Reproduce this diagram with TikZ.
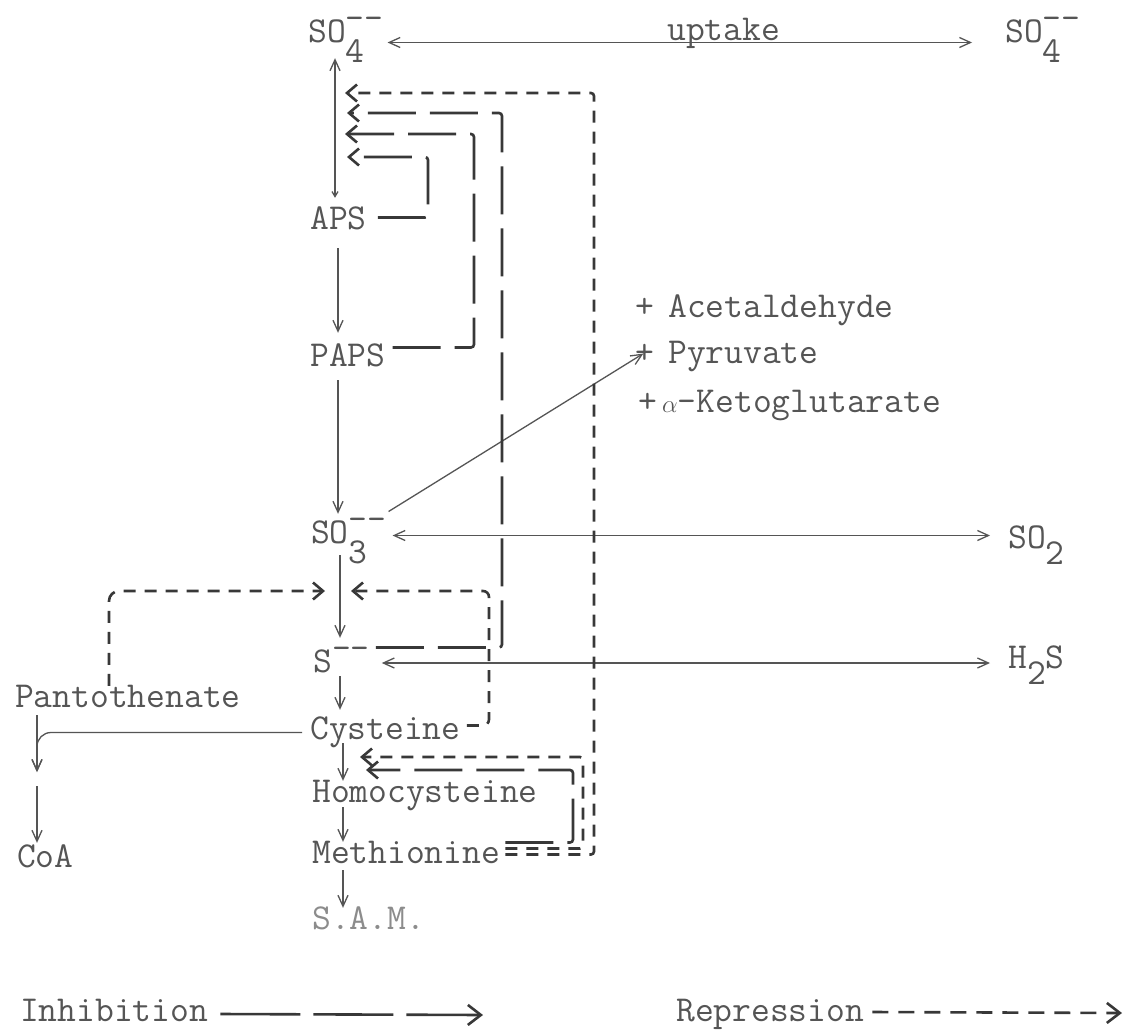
\documentclass[tikz,border=0pt]{standalone}
\usepackage{fontspec}
\usetikzlibrary{arrows.meta}
\definecolor{ink}{HTML}{555555}
\definecolor{dink}{HTML}{383838}
\definecolor{lite}{HTML}{8C8C8C}
\newcommand{\subsc}[1]{\rlap{\raisebox{-0.55em}{#1}}}
\newcommand{\supsc}[1]{\raisebox{0.33em}{#1}}
\begin{document}
\begin{tikzpicture}[x=1pt,y=-1pt,
  lbl/.style={font=\ttfamily\fontsize{36.5}{40}\selectfont, text=ink, inner sep=0pt,
              text height=21pt, text depth=0pt, anchor=base west},
  rx/.style={draw=ink, line width=1.3pt, -{Straight Barb[length=11pt,width=10pt]}},
  rxx/.style={draw=ink, line width=1.3pt, {Straight Barb[length=11pt,width=10pt]}-{Straight Barb[length=11pt,width=10pt]}},
  inh/.style={draw=dink, line width=2.6pt, dash pattern=on 48pt off 14pt,
              -{Straight Barb[length=10pt,width=17pt]}},
  rep/.style={draw=dink, line width=2.6pt, dash pattern=on 12pt off 9pt,
              -{Straight Barb[length=10pt,width=17pt]}}]
\fill[white] (0,0) rectangle (1128,1031);
\useasboundingbox (0,0) rectangle (1128,1031);

% labels
\node[lbl] (so4L) at (308,42) {SO\subsc{4}\supsc{{-}{-}}};
\node[lbl] (so4R) at (1005,42) {SO\subsc{4}\supsc{{-}{-}}};
\node[lbl] (upt) at (667,40) {uptake};
\node[lbl] (aps) at (310,229) {APS};
\node[lbl] (paps) at (310,366) {PAPS};
\node[lbl] (so3) at (311,543) {SO\subsc{3}\supsc{{-}{-}}};
\node[lbl] (so2) at (1008,548) {SO\raisebox{-0.45em}{2}};
\node[lbl] (s) at (313,672) {S\supsc{{-}{-}}};
\node[lbl] (h2s) at (1008,668) {H\raisebox{-0.45em}{2}S};
\node[lbl] (cys) at (310,739) {Cysteine};
\node[lbl] (homo) at (312,802) {Homocysteine};
\node[lbl] (meth) at (312,863) {Methionine};
\node[lbl,text=lite] (sam) at (312,929) {S.A.M.};
\node[lbl] (pant) at (15,707) {Pantothenate};
\node[lbl] (coa) at (17,867) {CoA};
\node[lbl,anchor=base] (plA) at (645,317) {+};
\node[lbl] (acet) at (668,317) {Acetaldehyde};
\node[lbl,anchor=base] (plP) at (645,363) {+};
\node[lbl] (pyr) at (668,363) {Pyruvate};
\node[lbl,anchor=base] (plK) at (648,412) {+};
\node[lbl] (keto) at (662,412) {$\alpha$-Ketoglutarate};
\node[lbl] (inhL) at (20,1021) {Inhibition};
\node[lbl] (repL) at (676,1021) {Repression};

% column helper coordinates
\coordinate (c0) at (335,0);
\coordinate (c1) at (338,0);
\coordinate (c2) at (340,0);
\coordinate (c3) at (343,0);

% main pathway
\draw[draw=ink, line width=1.3pt, {Straight Barb[length=5pt,width=6pt]}-{Straight Barb[length=11pt,width=10pt]},
      shorten <=10pt, shorten >=16pt] (aps.north -| c0) -- (so4L.south -| c0);
\draw[rx, shorten <=19pt, shorten >=12pt] (aps.south -| c1) -- (paps.north -| c1);
\draw[rx, shorten <=14pt, shorten >=8pt] (paps.south -| c1) -- (so3.north -| c1);
\draw[rx, shorten <=12pt, shorten >=13pt] (so3.south -| c2) -- (s.north -| c2);
\draw[rx, shorten <=4pt, shorten >=8pt] (s.south -| c2) -- (cys.north -| c2);
\draw[rx, shorten <=4pt] (cys.south -| c3) -- (homo.north -| c3);
\draw[rx, shorten <=5pt] (homo.south -| c3) -- (meth.north -| c3);
\draw[rx, shorten <=7pt] (meth.south -| c3) -- (sam.north -| c3);

% exchanges
\draw[rxx, shorten <=4pt, shorten >=33pt] ([yshift=-11pt]so4L.east) -- ([yshift=-11pt]so4L.east -| so4R.west);
\draw[rxx, shorten <=6pt, shorten >=18pt] ([yshift=-3pt]so3.east) -- ([yshift=-3pt]so3.east -| so2.west);
\draw[rxx, shorten <=12pt, shorten >=18pt] ([yshift=-1.5pt]s.east) -- ([yshift=-1.5pt]s.east -| h2s.west);
\draw[rx, shorten >=2pt] ([shift={(2pt,21pt)}]so3.east) -- (plP.center);

% feedback targets and corners
\coordinate (tA) at (345,93);  \coordinate (cA) at (594,93);
\coordinate (tB) at (347,113); \coordinate (cB) at (502,113);
\coordinate (tC) at (345,134); \coordinate (cC) at (474,134);
\coordinate (tD) at (347,157); \coordinate (cD) at (428,157);
\coordinate (tP) at (325,591);
\coordinate (tCy) at (351,591); \coordinate (cCy) at (489,591);
\coordinate (tM1) at (360,757); \coordinate (cM1) at (583,757);
\coordinate (tM2) at (366,770); \coordinate (cM2) at (573,770);

\draw[inh, rounded corners=3pt] ([shift={(11pt,1pt)}]aps.east) -| (cD) -- (tD);
\draw[inh, rounded corners=3pt] ([shift={(7pt,8pt)}]paps.east) -| (cC) -- (tC);
\draw[inh, rounded corners=3pt] ([shift={(6pt,14pt)}]s.east) -| (cB) -- (tB);
\draw[rep, rounded corners=3pt] ([shift={(5pt,-2pt)}]meth.east) -| (cA) -- (tA);
\draw[inh, rounded corners=3pt] ([shift={(5pt,10pt)}]meth.east) -| (cM2) -- (tM2);
\draw[rep, rounded corners=3pt] ([shift={(5pt,4pt)}]meth.east) -| (cM1) -- (tM1);
\draw[rep, rounded corners=6pt] ([shift={(6pt,3pt)}]cys.east) -| (cCy) -- (tCy);
\draw[rep, rounded corners=10pt] ([xshift=-19pt]pant.north) |- (tP);

% pantothenate / CoA branch
\coordinate (jc) at (37,772);
\coordinate (jc2) at (37,786);
\draw[rx, rounded corners=14pt] ([shift={(-8pt,-4pt)}]cys.west) -| (jc);
\draw[rx, shorten <=8pt] (pant.south -| jc) -- (jc);
\draw[rx, shorten >=3pt] (jc2) -- (coa.north -| jc);

% legend
\coordinate (inhEnd) at (483,1015);
\coordinate (repEnd) at (1122,1013);
\draw[inh, dash pattern=on 80pt off 13pt, -{Straight Barb[length=13pt,width=20pt]}]
  ([shift={(12pt,-3.5pt)}]inhL.east) -- (inhEnd);
\draw[rep, dash pattern=on 16pt off 10pt, -{Straight Barb[length=13pt,width=20pt]}]
  ([shift={(8pt,-1.5pt)}]repL.east) -- (repEnd);
\end{tikzpicture}
\end{document}
